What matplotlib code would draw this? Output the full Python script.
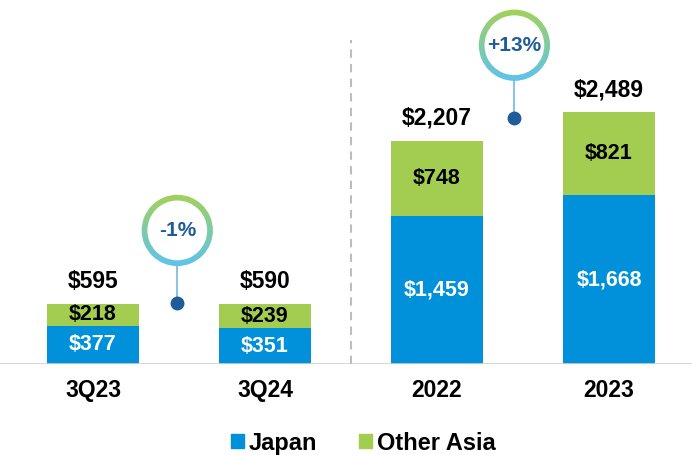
import numpy as np
import matplotlib
matplotlib.use("Agg")
import matplotlib.pyplot as plt
from matplotlib.patches import Wedge, Patch
from matplotlib.colors import LinearSegmentedColormap

plt.rcParams['font.family'] = ['Liberation Sans', 'DejaVu Sans']

# data
periods = ["3Q23", "3Q24", "2022", "2023"]
japan = [377, 351, 1459, 1668]
other_asia = [218, 239, 748, 821]
totals = [595, 590, 2207, 2489]
growth_labels = ["-1%", "+13%"]

blue = "#0091DA"
green = "#A2CD50"
dark_blue = "#1F5C99"

fig = plt.figure(figsize=(6.92, 4.55), dpi=100)
ax = fig.add_axes([0, 91 / 455, 1, 364 / 455])

x = np.arange(len(periods))
w = 0.54
ax.bar(x, japan, width=w, color=blue)
ax.bar(x, other_asia, bottom=japan, width=w, color=green)

for i in range(len(periods)):
    ax.text(x[i], japan[i] / 2, f"${japan[i]:,}", ha="center", va="center",
            color="white", fontsize=15.5, fontweight="bold")
    ax.text(x[i], japan[i] + other_asia[i] / 2, f"${other_asia[i]:,}",
            ha="center", va="center", color="black", fontsize=15.5, fontweight="bold")
    ax.annotate(f"${totals[i]:,}", (x[i], totals[i]), xytext=(0, 8),
                textcoords="offset points", ha="center", va="bottom",
                fontsize=16.5, fontweight="bold", color="black")

ax.set_xlim(-93 / 172, (692 - 93) / 172)
ax.set_ylim(0, 364 / 0.1012)
ax.axhline(0, color="#d0d0d0", lw=1.2)
ax.plot([1.5, 1.5], [0, 3200], ls=(0, (4, 3)), color="#bdbdbd", lw=1.5)

ax.set_xticks(x)
ax.set_xticklabels(periods, fontsize=16.5, fontweight="bold")
ax.tick_params(axis="x", length=0, pad=11)
ax.set_yticks([])
for s in ax.spines.values():
    s.set_visible(False)

# growth badges: (x, circle center y, dot y)
badges = [(0.49, 1320, 600), (2.45, 3150, 2430)]
r_px = 36
cmap = LinearSegmentedColormap.from_list("ring", ["#A5D158", "#7FCBA5", "#5EC3EC"])
grad = np.linspace(0, 1, 256).reshape(-1, 1)
inv = fig.transFigure.inverted()
for (bx, cy, dy), lab in zip(badges, growth_labels):
    ax.plot([bx, bx], [dy, cy - r_px / 0.1012], color="#8EC3E6", lw=1.5, zorder=2)
    ax.plot(bx, dy, "o", color="#1F5C99", ms=9, zorder=3)
    px, py = ax.transData.transform((bx, cy))
    fx0, fy0 = inv.transform((px - r_px, py - r_px))
    fx1, fy1 = inv.transform((px + r_px, py + r_px))
    bax = fig.add_axes([fx0, fy0, fx1 - fx0, fy1 - fy0])
    bax.set_xlim(-1, 1)
    bax.set_ylim(-1, 1)
    bax.axis("off")
    ring = Wedge((0, 0), 0.99, 0, 360, width=0.16, transform=bax.transData,
                 facecolor="none", edgecolor="none")
    bax.add_patch(ring)
    im = bax.imshow(grad, extent=(-1, 1, -1, 1), cmap=cmap, aspect="auto",
                    origin="upper")
    im.set_clip_path(ring)
    bax.text(0, 0, lab, ha="center", va="center", fontsize=15,
             fontweight="bold", color=dark_blue)

handles = [Patch(color=blue, label="Japan"), Patch(color=green, label="Other Asia")]
fig.legend(handles=handles, loc="center", bbox_to_anchor=(0.525, 0.026), ncol=2,
           frameon=False, handlelength=0.55, handleheight=0.55, handletextpad=0.2,
           columnspacing=1.8, prop={"size": 17, "weight": "bold"})

fig.savefig("out.png", dpi=100)
